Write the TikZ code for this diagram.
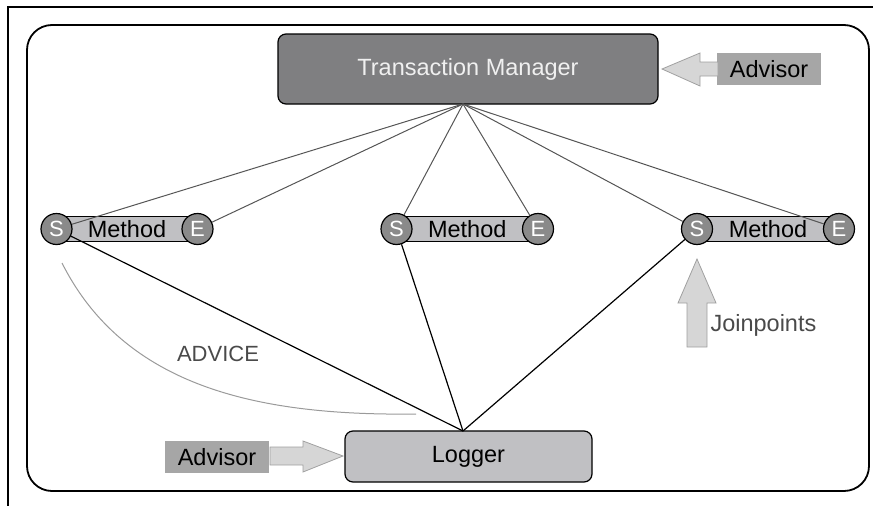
\documentclass[tikz,border=0pt]{standalone}
\usepackage{fontspec}
\setmainfont{Liberation Sans}
\begin{document}
\begin{tikzpicture}[x=1pt,y=-1pt,
  font=\fontsize{23.5}{26}\selectfont,
  tmbox/.style={draw=black,line width=1.2pt,rounded corners=8pt,fill=tmgray,text=tmtext,minimum width=380,minimum height=70,inner sep=0},
  logbox/.style={draw=black,line width=1.2pt,rounded corners=8pt,fill=lightbox,minimum width=247,minimum height=51,inner sep=0},
  advbox/.style={fill=advgray,minimum width=104,minimum height=32,inner sep=0},
  methodbar/.style={draw=black,line width=1.2pt,fill=lightbox,minimum height=25,inner sep=0},
  secirc/.style={circle,draw=black,line width=1.2pt,fill=circgray,text=white,minimum size=31,inner sep=0,font=\fontsize{22}{24}\selectfont},
  blockarrow/.style={draw=arrowline,line width=0.8pt,fill=arrowfill},
  tmline/.style={draw=tmlinecol,line width=1pt},
  logline/.style={draw=black,line width=1.2pt},
]
\definecolor{tmgray}{HTML}{7F7F81}
\definecolor{tmtext}{HTML}{F0F0F0}
\definecolor{lightbox}{HTML}{C0C0C3}
\definecolor{advgray}{HTML}{A6A6A6}
\definecolor{circgray}{HTML}{8A8A8A}
\definecolor{arrowline}{HTML}{A0A0A0}
\definecolor{arrowfill}{HTML}{D6D6D6}
\definecolor{tmlinecol}{HTML}{555555}
\definecolor{curvecol}{HTML}{9A9A9A}
\definecolor{labelcol}{HTML}{4A4A4A}
\useasboundingbox (0,0) rectangle (873,506);
% outer frame (L-shape)
\draw[line width=1.2pt] (873,7) -- (8,7) -- (8,506);
% inner rounded frame
\draw[line width=1.8pt,rounded corners=25pt] (27,25) rectangle (869,491);

% transaction manager and advisor
\node[tmbox] (tm) at (468,69) {Transaction Manager};
\node[advbox] (adv1) at (769,69) {Advisor};
\filldraw[blockarrow] (662,69) -- (700,53) -- (700,62) -- (718,62) -- (718,76) -- (700,76) -- (700,86) -- cycle;

% methods
\foreach \i/\sx/\ex in {1/56.5/197.5, 2/396.5/538, 3/697/839} {
  \pgfmathsetmacro{\mx}{(\sx+\ex)/2}
  \pgfmathsetmacro{\mw}{\ex-\sx}
  \node[methodbar,minimum width=\mw] (m\i) at (\mx,229) {};
  \node (mt\i) at (\mx,229) {Method};
  \node[secirc] (s\i) at (\sx,229) {S};
  \node[secirc] (e\i) at (\ex,229) {E};
}

% logger and advisor
\node[logbox] (log) at (468.5,456.5) {Logger};
\node[advbox] (adv2) at (217,457) {Advisor};
\filldraw[blockarrow] (343,456) -- (303,441) -- (303,447) -- (270,447) -- (270,465) -- (303,465) -- (303,472) -- cycle;

% convergence points
\coordinate (tmp) at (463,104);
\coordinate (lgp) at (463,431);

% lines from transaction manager
\foreach \n in {s1,e1,s2,e2,s3,e3} {
  \draw[tmline] (tmp) -- (\n);
}
% lines to logger
\foreach \n in {s1,s2,s3} {
  \draw[logline] (lgp) -- (\n);
}

% joinpoints arrow
\filldraw[blockarrow] (697,259) -- (716,303) -- (707,303) -- (707,347) -- (687,347) -- (687,303) -- (678,303) -- cycle;
\node[text=labelcol,anchor=west] (jp) at (707,325) {Joinpoints};

% advice curve
\coordinate (ca) at (62,263);
\coordinate (cb) at (416,414);
\draw[draw=curvecol,line width=1pt] (ca) .. controls (125,388) and (260,416) .. (cb);
\node[text=labelcol,font=\fontsize{22}{24}\selectfont] (advice) at (218,354) {ADVICE};
\end{tikzpicture}
\end{document}
